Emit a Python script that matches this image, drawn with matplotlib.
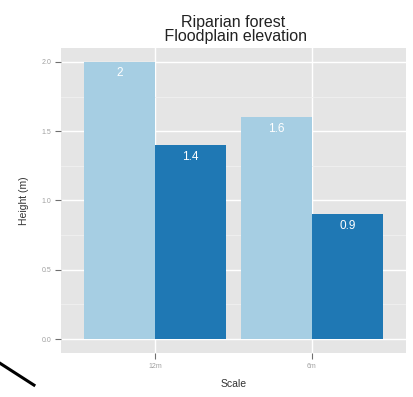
import matplotlib
matplotlib.use("Agg")
import matplotlib.pyplot as plt
import numpy as np
from matplotlib.lines import Line2D

plt.rcParams["font.family"] = ["Liberation Sans", "DejaVu Sans"]

categories = ["12m", "6m"]
series_names = ["Riparian forest", "Floodplain elevation"]
riparian = [2.0, 1.6]
floodplain = [1.4, 0.9]
label_riparian = ["2", "1.6"]
label_floodplain = ["1.4", "0.9"]
yticks = [0.0, 0.5, 1.0, 1.5, 2.0]
yticklabels = ["0.0", "0.5", "1.0", "1.5", "2.0"]

fig = plt.figure(figsize=(4.14, 3.97), dpi=100)
ax = fig.add_axes([0.147, 0.111, 0.834, 0.768])
ax.set_facecolor("#e5e5e5")

x = np.arange(1, len(categories) + 1)
w = 0.45
b1 = ax.bar(x - w / 2, riparian, width=w, color="#a6cee3", zorder=3)
b2 = ax.bar(x + w / 2, floodplain, width=w, color="#1f78b4", zorder=3)

for bars, labs in ((b1, label_riparian), (b2, label_floodplain)):
    for r, lab in zip(bars, labs):
        ax.annotate(lab, (r.get_x() + r.get_width() / 2, r.get_height()),
                    xytext=(0, -4), textcoords="offset points",
                    ha="center", va="top", color="white", fontsize=8.5, zorder=4)

ax.set_xlim(0.4, 2.6)
ax.set_ylim(-0.1, 2.1)
ax.set_xticks(x)
ax.set_xticklabels(categories)
ax.set_yticks(yticks)
ax.set_yticklabels(yticklabels)
ax.set_yticks([0.25, 0.75, 1.25, 1.75], minor=True)

ax.grid(which="major", color="white", linewidth=1.0, zorder=0)
ax.grid(which="minor", axis="y", color="#f0f0f0", linewidth=0.6, zorder=0)
ax.set_axisbelow(True)
for s in ax.spines.values():
    s.set_visible(False)
ax.tick_params(axis="both", which="major", length=4, width=0.8, color="#6f6f6f",
               labelsize=5, labelcolor="#a0a0a0", pad=3)
ax.tick_params(which="minor", length=0)

ax.set_xlabel("Scale", fontsize=7.5, color="#333333", labelpad=7)
ax.set_ylabel("Height (m)", fontsize=7.5, color="#333333", labelpad=9)
ax.set_title("Riparian forest\n Floodplain elevation", fontsize=11.5, color="#222222",
             linespacing=0.95, pad=5)

fig.add_artist(Line2D([0.0, 0.082], [0.085, 0.03], transform=fig.transFigure,
                      color="black", linewidth=2.2))

fig.savefig("out.png", dpi=100)
